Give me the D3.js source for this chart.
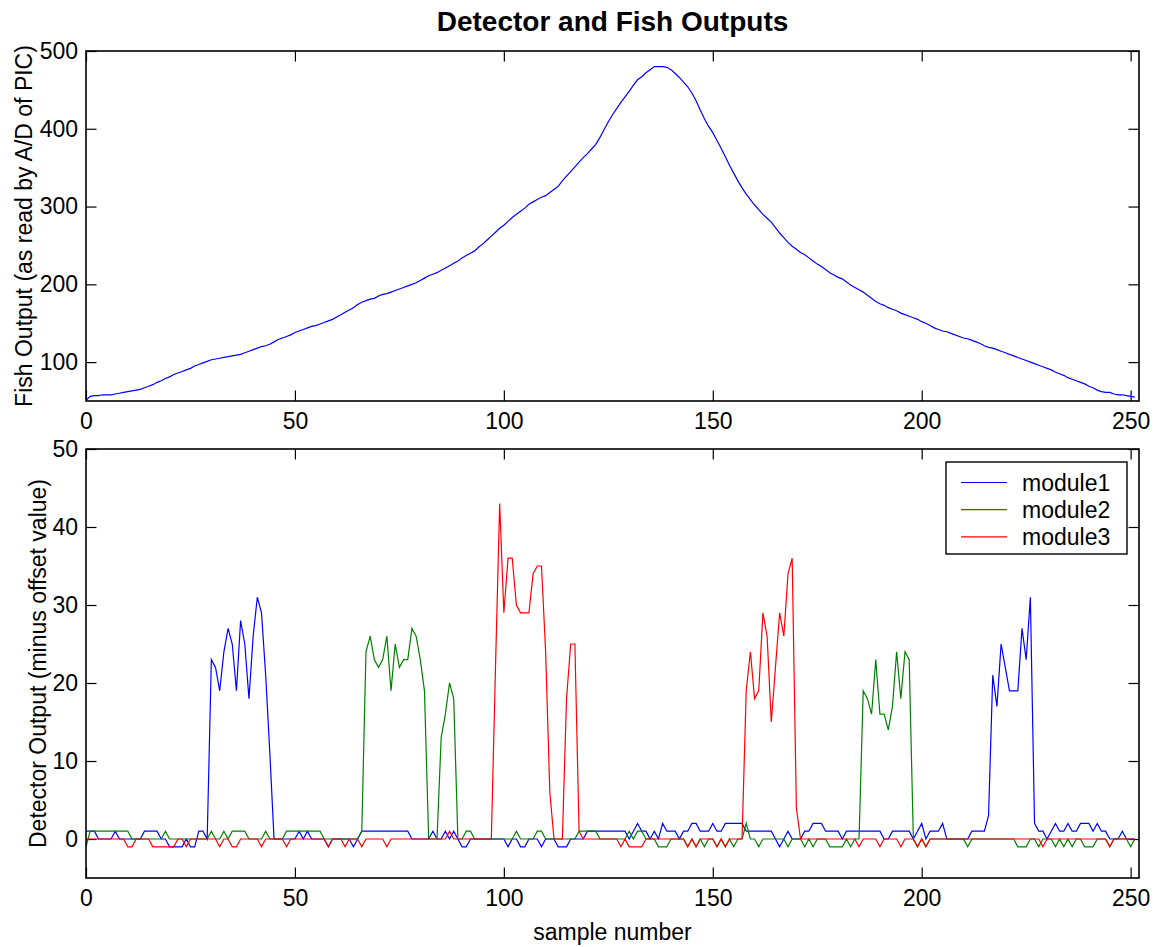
<!DOCTYPE html>
<html><head><meta charset="utf-8">
<script src="https://cdn.jsdelivr.net/npm/d3@7"></script>
<style>body{margin:0;background:#fff}text{font-family:"Liberation Sans",Arial,Helvetica,sans-serif;}</style>
</head><body>
<svg id="c" width="1159" height="947"></svg>
<script>
const fishOutput = [
51,56,57,57,58,58,58,59,60,61,
62,63,64,65,67,69,71,74,76,79,
81,84,86,88,90,92,95,97,99,101,
103,104,105,106,107,108,109,110,112,114,
116,118,120,121,123,126,129,131,133,135,
138,140,142,144,146,147,149,151,153,155,
158,161,164,167,170,174,177,179,181,182,
185,187,188,190,192,194,196,198,200,202,
205,208,211,213,215,218,221,224,227,230,
234,237,240,243,248,252,257,262,267,272,
276,281,286,290,294,298,303,306,309,312,
314,318,322,326,333,339,345,351,357,363,
368,374,380,389,399,409,418,426,434,441,
448,456,463,467,472,476,480,480,480,479,
476,471,466,460,454,446,436,424,413,403,
395,385,375,364,353,343,333,324,316,309,
302,296,290,285,280,273,266,260,254,249,
245,241,238,234,230,226,223,219,215,212,
209,207,203,199,196,193,190,186,182,178,
175,173,170,168,166,163,161,159,157,155,
152,150,147,144,142,140,139,137,135,133,
131,130,128,126,124,121,119,118,116,114,
112,110,108,106,104,102,100,98,96,94,
92,90,87,85,83,80,78,76,74,72,
69,67,64,62,61,61,59,58,58,57,
56,55];

const module1 = [
1,1,1,0,0,0,0,1,0,0,
0,0,0,0,1,1,1,1,0,0,
-1,-1,-1,-1,0,-1,-1,1,1,0,
23,22,19,24,27,25,19,28,25,18,
26,31,29,21,11,0,0,0,0,0,
0,1,0,1,0,0,0,0,-1,0,
0,0,0,0,-1,0,1,1,1,1,
1,1,1,1,1,1,1,1,0,0,
0,0,0,1,0,0,1,0,1,0,
-1,-1,0,0,0,0,0,0,0,0,
0,-1,0,0,-1,-1,0,0,0,-1,
0,0,0,-1,-1,-1,0,0,0,0,
1,1,1,1,1,1,1,1,1,1,
0,1,2,1,1,0,1,0,2,1,
1,1,0,1,1,2,2,1,1,1,
2,1,1,2,2,2,2,2,1,1,
1,1,1,1,1,0,-1,0,1,0,
0,0,1,1,2,2,2,1,1,1,
1,0,1,1,1,1,1,1,1,1,
1,0,0,1,1,1,1,1,0,1,
2,0,1,1,1,2,0,0,0,0,
0,0,1,1,1,1,3,21,17,25,
22,19,19,19,27,23,31,2,1,1,
0,1,2,1,1,2,1,1,2,2,
2,1,2,1,1,0,0,0,1,0,
0,0];

const module2 = [
-1,1,1,1,1,1,1,1,1,1,
1,0,0,0,0,0,0,0,0,1,
0,0,0,0,0,0,0,0,0,0,
1,0,0,1,0,1,1,1,1,0,
0,0,0,1,0,0,0,0,1,1,
1,1,1,1,1,1,1,0,0,0,
0,0,0,0,0,0,1,24,26,23,
22,23,26,19,25,22,23,23,27,26,
23,19,0,0,0,13,16,20,18,0,
0,1,1,0,0,0,0,0,0,0,
0,0,0,1,0,0,0,0,1,1,
0,0,0,0,0,0,0,0,1,1,
1,1,1,0,0,0,0,0,0,0,
1,0,1,1,0,0,0,-1,-1,-1,
0,0,0,0,-1,0,-1,0,-1,0,
0,-1,0,-1,0,-1,0,0,2,0,
0,-1,0,0,0,0,0,0,-1,0,
0,0,-1,0,-1,0,0,0,-1,-1,
-1,-1,0,-1,0,0,19,18,16,23,
16,16,14,17,24,18,24,23,0,-1,
0,-1,0,0,0,0,0,0,0,0,
0,-1,0,0,0,0,0,0,0,0,
0,0,0,-1,-1,-1,0,0,-1,0,
0,0,-1,0,-1,0,-1,0,0,-1,
-1,-1,0,0,0,-1,0,0,0,0,
-1,0];

const module3 = [
0,0,0,0,0,0,0,0,0,0,
-1,-1,0,0,0,0,-1,-1,-1,-1,
-1,-1,0,0,-1,0,0,0,0,0,
0,0,-1,0,0,-1,-1,0,0,0,
0,0,-1,0,0,0,0,0,-1,0,
0,0,0,0,0,0,0,0,-1,0,
0,0,-1,0,0,0,-1,0,0,0,
0,0,-1,0,0,0,0,0,0,0,
0,0,0,0,0,0,0,1,0,0,
0,0,0,0,0,0,0,0,22,43,
29,36,36,30,29,29,29,34,35,35,
24,6,0,0,0,18,25,25,1,0,
0,0,0,0,0,0,0,0,-1,0,
-1,-1,-1,-1,0,0,0,0,0,0,
0,0,0,0,-1,0,-1,0,0,0,
0,-1,0,-1,0,0,0,0,19,24,
18,19,29,26,15,22,29,26,34,36,
4,0,0,0,0,0,0,0,0,0,
0,0,0,0,0,-1,0,0,0,0,
-1,0,0,0,0,-1,0,0,0,-1,
0,-1,0,0,0,0,0,0,0,0,
0,0,0,0,0,0,0,0,0,0,
0,0,0,0,0,0,0,0,0,-1,
0,0,0,0,0,0,0,0,0,0,
0,0,0,0,0,-1,0,0,0,0,
0,0];

const seriesNames = ["module1", "module2", "module3"];
const seriesColors = ["#0000ff", "#008000", "#ff0000"];
const xTicks = [0, 50, 100, 150, 200, 250];
const fishTicks = [100, 200, 300, 400, 500];
const detTicks = [0, 10, 20, 30, 40, 50];

const svg = d3.select("#c");
const L = 86, R = 1139;
const x = d3.scaleLinear().domain([0, 252]).range([L, R]);
const yTop = d3.scaleLinear().domain([50, 500]).range([401, 51]);
const yBot = d3.scaleLinear().domain([-5, 50]).range([878, 449]);
const TK = 10.5, FS = 23;

function panel(y, yTicks, id) {
  const [y0, y1] = y.range();
  const g = svg.append("g");
  g.append("clipPath").attr("id", id).append("rect")
    .attr("x", L).attr("y", y1).attr("width", R - L).attr("height", y0 - y1);
  const axB = g.append("g").attr("transform", `translate(0,${y0})`)
    .call(d3.axisBottom(x).tickValues(xTicks).tickSizeInner(-TK).tickSizeOuter(0).tickPadding(12));
  const axT = g.append("g").attr("transform", `translate(0,${y1})`)
    .call(d3.axisTop(x).tickValues(xTicks).tickSizeInner(-TK).tickSizeOuter(0).tickFormat(""));
  const axL = g.append("g").attr("transform", `translate(${L},0)`)
    .call(d3.axisLeft(y).tickValues(yTicks).tickSizeInner(-TK).tickSizeOuter(0).tickPadding(8));
  const axR = g.append("g").attr("transform", `translate(${R},0)`)
    .call(d3.axisRight(y).tickValues(yTicks).tickSizeInner(-TK).tickSizeOuter(0).tickFormat(""));
  [axB, axT, axL, axR].forEach(a => {
    a.select(".domain").remove();
    a.selectAll("line").attr("stroke", "#000").attr("stroke-width", 1.2);
    a.selectAll("text").attr("font-size", FS).attr("fill", "#000")
      .style("font-family", '"Liberation Sans",Arial,sans-serif');
  });
  return g;
}

const gTop = panel(yTop, fishTicks, "clipTop");
const gBot = panel(yBot, detTicks, "clipBot");

gTop.append("path").datum(fishOutput)
  .attr("clip-path", "url(#clipTop)")
  .attr("fill", "none").attr("stroke", "#0000ff").attr("stroke-width", 1.2)
  .attr("d", d3.line().x((d, i) => x(i)).y(d => yTop(d)));

[module1, module2, module3].forEach((s, k) => {
  gBot.append("path").datum(s)
    .attr("clip-path", "url(#clipBot)")
    .attr("fill", "none").attr("stroke", seriesColors[k]).attr("stroke-width", 1.2)
    .attr("d", d3.line().x((d, i) => x(i)).y(d => yBot(d)));
});

// frames
[yTop, yBot].forEach(y => {
  const [y0, y1] = y.range();
  svg.append("rect").attr("x", L).attr("y", y1).attr("width", R - L).attr("height", y0 - y1)
    .attr("fill", "none").attr("stroke", "#000").attr("stroke-width", 1.6);
});

// title and labels
svg.append("text").attr("x", (L + R) / 2).attr("y", 31).attr("text-anchor", "middle")
  .attr("font-size", 28).attr("font-weight", "bold").text("Detector and Fish Outputs");
svg.append("text").attr("transform", `translate(32,${(51 + 401) / 2}) rotate(-90)`)
  .attr("text-anchor", "middle").attr("font-size", FS).text("Fish Output (as read by A/D of PIC)");
svg.append("text").attr("transform", `translate(46,${(449 + 878) / 2}) rotate(-90)`)
  .attr("text-anchor", "middle").attr("font-size", FS).text("Detector Output (minus offset value)");
svg.append("text").attr("x", (L + R) / 2).attr("y", 940).attr("text-anchor", "middle")
  .attr("font-size", FS).text("sample number");

// legend
const lg = svg.append("g");
lg.append("rect").attr("x", 946).attr("y", 462).attr("width", 181).attr("height", 92)
  .attr("fill", "#fff").attr("stroke", "#000").attr("stroke-width", 1.4);
seriesNames.forEach((n, k) => {
  const yy = 482.5 + k * 27.2;
  lg.append("line").attr("x1", 961).attr("x2", 1007).attr("y1", yy).attr("y2", yy)
    .attr("stroke", seriesColors[k]).attr("stroke-width", 1.2);
  lg.append("text").attr("x", 1022).attr("y", yy + 8).attr("font-size", FS).text(n);
});
</script>
</body></html>
